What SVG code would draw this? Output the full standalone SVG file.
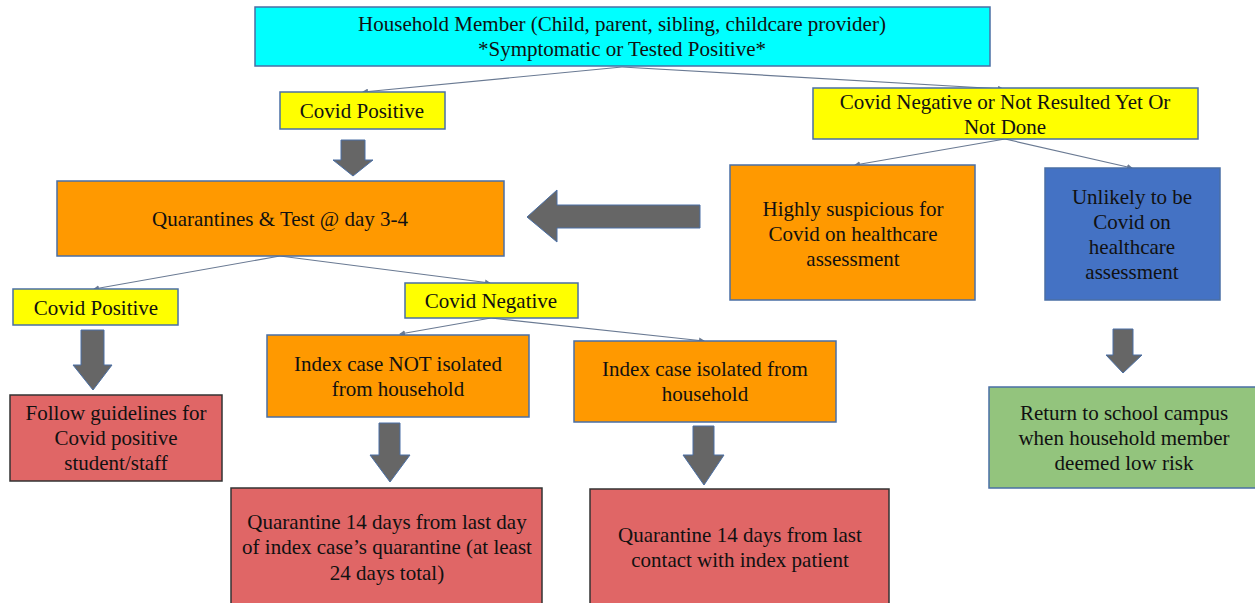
<svg xmlns="http://www.w3.org/2000/svg" width="1255" height="603" viewBox="0 0 1255 603">
<defs>
<style>
.t{font-family:"Liberation Serif","Times New Roman",serif;font-size:21px;fill:#111;text-anchor:middle}
.box{stroke:#4a6fa5;stroke-width:1.5}
.red{fill:#E06666;stroke:#333;stroke-width:1.5}
.cy{fill:#00FFFF}
.ye{fill:#FFFF00}
.or{fill:#FF9900}
.bl{fill:#4472C4}
.gr{fill:#93C47D}
.con{stroke:#6a7a93;stroke-width:1.2;fill:none;marker-end:url(#ah)}
.blk{fill:#666666;stroke:#4a6fa5;stroke-width:1}
</style>
<marker id="ah" markerWidth="6" markerHeight="6" refX="5" refY="3" orient="auto" markerUnits="userSpaceOnUse">
<path d="M0,0 L6,3 L0,6 z" fill="#6a7a93"/>
</marker>
</defs>
<rect width="1255" height="603" fill="#ffffff"/>
<g id="connectors">
<line class="con" x1="622" y1="67" x2="363" y2="92"/>
<line class="con" x1="622" y1="67" x2="1003" y2="89"/>
<line class="con" x1="1005" y1="139" x2="855" y2="165"/>
<line class="con" x1="1005" y1="139" x2="1132" y2="168"/>
<line class="con" x1="280" y1="256" x2="94" y2="289"/>
<line class="con" x1="280" y1="256" x2="490" y2="283"/>
<line class="con" x1="491" y1="318" x2="400" y2="334"/>
<line class="con" x1="491" y1="318" x2="704" y2="341"/>
<path class="blk" d="M341,140 H365 V160 H373 L353,176 L333,160 H341 Z"/>
<path class="blk" d="M700,205 V228 H557 V242 L527,217 L557,190 V205 Z"/>
<path class="blk" d="M1113,329 H1133 V355 H1142 L1123,373 L1106,355 H1113 Z"/>
<path class="blk" d="M81,330 H104 V365 H112 L93,390 L73,365 H81 Z"/>
<path class="blk" d="M379,423 H400 V455 H410 L390,482 L370,455 H379 Z"/>
<path class="blk" d="M693,426 H714 V455 H724 L704,485 L683,455 H693 Z"/>
</g>
<g id="n-household">
<rect class="box cy" x="255" y="7" width="735" height="59"/>
<text class="t" x="622" y="31">Household Member (Child, parent, sibling, childcare provider)</text>
<text class="t" x="622" y="56">*Symptomatic or Tested Positive*</text>
</g>
<g id="n-pos1">
<rect class="box ye" x="280" y="92" width="165" height="37"/>
<text class="t" x="362" y="118">Covid Positive</text>
</g>
<g id="n-neg1">
<rect class="box ye" x="813" y="88" width="385" height="51"/>
<text class="t" x="1005" y="109">Covid Negative or Not Resulted Yet Or</text>
<text class="t" x="1005" y="134">Not Done</text>
</g>
<g id="n-quar">
<rect class="box or" x="57" y="181" width="447" height="75"/>
<text class="t" x="280" y="226">Quarantines &amp; Test @ day 3-4</text>
</g>
<g id="n-highly">
<rect class="box or" x="730" y="165" width="245" height="135"/>
<text class="t" x="853" y="216">Highly suspicious for</text>
<text class="t" x="853" y="241">Covid on healthcare</text>
<text class="t" x="853" y="266">assessment</text>
</g>
<g id="n-unlikely">
<rect class="box bl" x="1045" y="168" width="175" height="132"/>
<text class="t" x="1132" y="204">Unlikely to be</text>
<text class="t" x="1132" y="229">Covid on</text>
<text class="t" x="1132" y="254">healthcare</text>
<text class="t" x="1132" y="279">assessment</text>
</g>
<g id="n-return">
<rect class="box gr" x="989" y="387" width="270" height="101"/>
<text class="t" x="1124" y="420">Return to school campus</text>
<text class="t" x="1124" y="445">when household member</text>
<text class="t" x="1124" y="470">deemed low risk</text>
</g>
<g id="n-pos2">
<rect class="box ye" x="13" y="289" width="165" height="36"/>
<text class="t" x="96" y="315">Covid Positive</text>
</g>
<g id="n-neg2">
<rect class="box ye" x="405" y="283" width="173" height="35"/>
<text class="t" x="491" y="308">Covid Negative</text>
</g>
<g id="n-follow">
<rect class="red" x="10" y="395" width="212" height="86"/>
<text class="t" x="116" y="420">Follow guidelines for</text>
<text class="t" x="116" y="445">Covid positive</text>
<text class="t" x="116" y="470">student/staff</text>
</g>
<g id="n-notiso">
<rect class="box or" x="267" y="335" width="262" height="82"/>
<text class="t" x="398" y="371">Index case NOT isolated</text>
<text class="t" x="398" y="396">from household</text>
</g>
<g id="n-iso">
<rect class="box or" x="574" y="341" width="262" height="81"/>
<text class="t" x="705" y="376">Index case isolated from</text>
<text class="t" x="705" y="401">household</text>
</g>
<g id="n-q24">
<rect class="red" x="231" y="488" width="311" height="118"/>
<text class="t" x="387" y="529">Quarantine 14 days from last day</text>
<text class="t" x="387" y="554">of index case’s quarantine (at least</text>
<text class="t" x="387" y="580">24 days total)</text>
</g>
<g id="n-qlast">
<rect class="red" x="590" y="489" width="299" height="117"/>
<text class="t" x="740" y="542">Quarantine 14 days from last</text>
<text class="t" x="740" y="567">contact with index patient</text>
</g>
</svg>
